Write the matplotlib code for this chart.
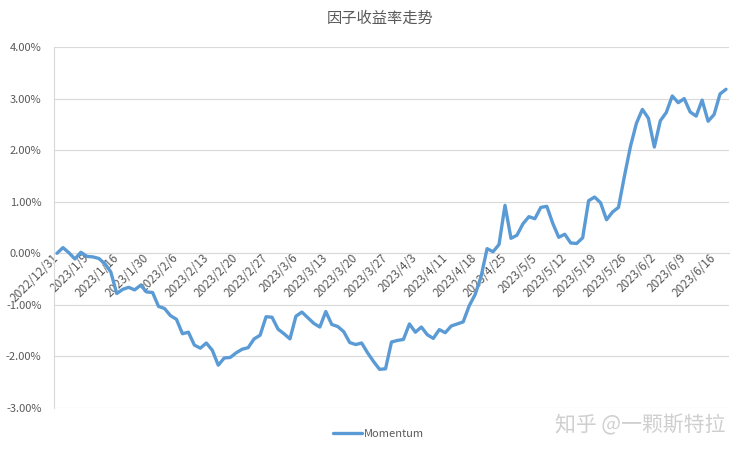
import pandas as pd
import matplotlib.pyplot as plt
from matplotlib.ticker import FuncFormatter

plt.rcParams['font.family'] = ['Noto Sans CJK SC', 'DejaVu Sans']

# 1. data (values in %)
START_DATE = '2022-12-31'
HOLIDAYS = ['2023-01-23', '2023-01-24', '2023-01-25', '2023-01-26', '2023-01-27',
            '2023-04-05', '2023-05-01', '2023-05-02', '2023-05-03']
TICK_LABELS = ['2022/12/31', '2023/1/9', '2023/1/16', '2023/1/30', '2023/2/6',
               '2023/2/13', '2023/2/20', '2023/2/27', '2023/3/6', '2023/3/13',
               '2023/3/20', '2023/3/27', '2023/4/3', '2023/4/11', '2023/4/18',
               '2023/4/25', '2023/5/5', '2023/5/12', '2023/5/19', '2023/5/26',
               '2023/6/2', '2023/6/9', '2023/6/16']
momentum = [
    0.00, 0.11, 0.01, -0.11, 0.02, -0.06, -0.07, -0.10, -0.20, -0.36,
    -0.78, -0.70, -0.66, -0.71, -0.62, -0.75, -0.76, -1.03, -1.07, -1.21,
    -1.28, -1.56, -1.53, -1.78, -1.84, -1.74, -1.88, -2.17, -2.03, -2.02,
    -1.93, -1.86, -1.83, -1.66, -1.59, -1.23, -1.24, -1.47, -1.56, -1.66,
    -1.22, -1.14, -1.25, -1.36, -1.43, -1.13, -1.38, -1.42, -1.52, -1.73,
    -1.77, -1.74, -1.93, -2.10, -2.25, -2.24, -1.72, -1.69, -1.67, -1.37,
    -1.53, -1.43, -1.58, -1.65, -1.48, -1.54, -1.41, -1.37, -1.33, -1.02,
    -0.80, -0.45, 0.09, 0.03, 0.17, 0.93, 0.29, 0.35, 0.57, 0.71,
    0.67, 0.89, 0.91, 0.58, 0.31, 0.37, 0.20, 0.19, 0.30, 1.02,
    1.09, 0.98, 0.65, 0.80, 0.89, 1.50, 2.07, 2.52, 2.79, 2.62,
    2.06, 2.57, 2.73, 3.05, 2.92, 3.00, 2.74, 2.66, 2.97, 2.56,
    2.69, 3.09, 3.18,
]

# trading days: 12/31 baseline + A-share trading calendar
trade_days = pd.bdate_range('2023-01-03', '2023-06-20', freq='C', holidays=HOLIDAYS)
dates = [pd.Timestamp(START_DATE)] + list(trade_days)
date_labels = [f'{d.year}/{d.month}/{d.day}' for d in dates]
x = list(range(len(dates)))

# 2. plot
fig = plt.figure(figsize=(7.52, 4.54), dpi=100)
ax = fig.add_axes([54 / 752, 1 - 408 / 454, (729 - 54) / 752, (408 - 47) / 454])

# axis line at 0 (set before tick labels, it resets the ticks)
for s in ['top', 'right']:
    ax.spines[s].set_visible(False)
ax.spines['left'].set_color('#D9D9D9')
ax.spines['bottom'].set_color('#D9D9D9')
ax.spines['bottom'].set_position(('data', 0))

line, = ax.plot(x, momentum, color='#5B9BD5', linewidth=2.4,
                solid_joinstyle='round', solid_capstyle='round', label='Momentum', zorder=3)

ax.set_xlim(-0.5, len(dates) - 0.5)
ax.set_ylim(-3, 4)
ax.set_yticks(range(-3, 5))
ax.yaxis.set_major_formatter(FuncFormatter(lambda v, p: f'{v:.2f}%'))
ax.grid(axis='y', color='#D9D9D9', linewidth=0.8, zorder=0)

tick_pos = [date_labels.index(t) for t in TICK_LABELS]
ax.set_xticks(tick_pos)
ax.set_xticklabels(TICK_LABELS)

ax.tick_params(axis='y', length=0, pad=9, labelsize=8, labelcolor='#595959')
ax.tick_params(axis='x', length=0, pad=2, labelsize=8.5, labelcolor='#595959')
plt.setp(ax.get_xticklabels(), rotation=45, ha='right', va='center', rotation_mode='anchor')

fig.text(0.506, 0.96, '因子收益率走势', ha='center', va='center', fontsize=11, color='#595959')

fig.legend(handles=[line], loc='center', bbox_to_anchor=(0.503, 0.044), frameon=False,
           fontsize=8, handlelength=2.6, handletextpad=0.2, labelcolor='#595959')

fig.text(0.852, 0.063, '知乎 @一颗斯特拉', ha='center', va='center', fontsize=15,
         color='#CFCFCF')

plt.savefig('out.png', dpi=100)
